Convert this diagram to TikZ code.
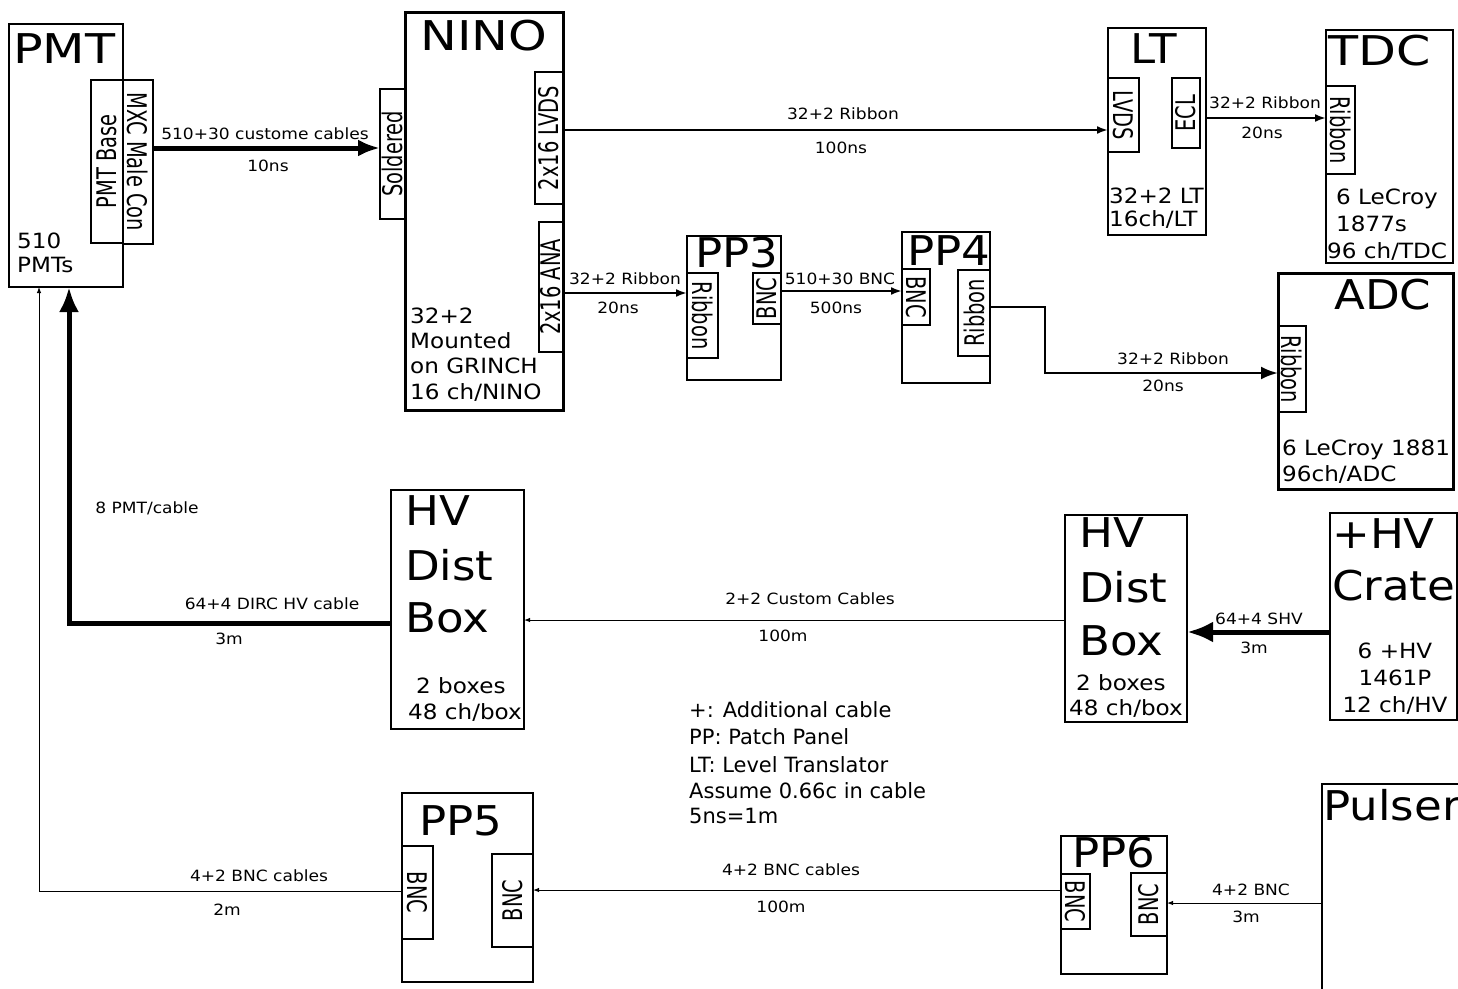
\documentclass[tikz,border=0pt]{standalone}
\usepackage{fontspec}
\setmainfont{DejaVu Sans}[FakeStretch=1.1]
\newfontfamily\legfont{DejaVu Sans}
\newfontfamily\widefont{DejaVu Sans}[FakeStretch=1.2]
\newfontfamily\connfont{DejaVu Sans}[FakeStretch=0.72]
\usetikzlibrary{arrows.meta,fit}
\begin{document}
\begin{tikzpicture}[x=1pt,y=-1pt,
 box/.style={draw, line width=2pt, inner sep=0pt, outer sep=0pt},
 heavybox/.style={box, line width=3pt},
 lightbox/.style={box, line width=1.5pt},
 conn/.style={draw, line width=1.5pt, inner sep=0pt, outer sep=0pt},
 ctext/.style={font={\connfont\fontsize{27}{27}\selectfont}, inner sep=0pt},
 title/.style={font=\fontsize{41}{41}\selectfont, inner sep=0pt, anchor=base west},
 widetitle/.style={title, font={\widefont\fontsize{41}{41}\selectfont}},
 med/.style={font=\fontsize{21}{21}\selectfont, inner sep=0pt, anchor=base west},
 leg/.style={font={\legfont\fontsize{21}{21}\selectfont}, inner sep=0pt, anchor=base west},
 lbl/.style={font=\fontsize{15.5}{15.5}\selectfont, inner sep=0pt, anchor=base},
 heavywire/.style={line width=5pt, -{Latex[length=22pt,width=17pt]}},
 medwire/.style={line width=2.5pt, -{Latex[length=11pt,width=8pt]}},
 thinwire/.style={line width=1pt, -{Latex[length=6pt,width=4.5pt]}}
]
\useasboundingbox (0,0) rectangle (1458,988);

% ---------- boxes ----------
\node[box, fit={(9,24)(123,287)}] (pmt) {};
\node[heavybox, fit={(405,12)(563,410)}] (nino) {};
\node[lightbox, fit={(687,236)(781,380)}] (pp3) {};
\node[lightbox, fit={(902,232)(990,383)}] (pp4) {};
\node[box, fit={(1108,28)(1206,235)}] (lt) {};
\node[box, fit={(1326,30)(1453,263)}] (tdc) {};
\node[heavybox, fit={(1278,273)(1453,489)}] (adc) {};
\node[box, fit={(391,490)(524,729)}] (hvl) {};
\node[box, fit={(1065,515)(1187,722)}] (hvr) {};
\node[box, fit={(1330,513)(1457,720)}] (crate) {};
\node[box, fit={(402,793)(533,982)}] (pp5) {};
\node[lightbox, fit={(1061,836)(1167,974)}] (pp6) {};
\node[box, fit={(1322,784)(1480,1010)}] (pulser) {};

% ---------- connectors ----------
\node[conn, fit={(91,80)(123,243)}] (pmtbase) {};
\node[ctext, rotate=90] (pmtbaseT) at (pmtbase.center) {PMT Base};
\node[conn, fit={(123,80)(153,244)}] (mxc) {};
\node[ctext, rotate=-90] (mxcT) at (mxc.center) {MXC Male Con};
\node[conn, fit={(380,89)(405,219)}] (sold) {};
\node[ctext, rotate=90] (soldT) at (sold.center) {Soldered};
\node[conn, fit={(535,72)(563,204)}] (lvds) {};
\node[ctext, rotate=90] (lvdsT) at (lvds.center) {2x16 LVDS};
\node[conn, fit={(539,222)(563,352)}] (ana) {};
\node[ctext, rotate=90] (anaT) at (ana.center) {2x16 ANA};
\node[conn, fit={(687,273)(718,358)}] (pp3rib) {};
\node[ctext, rotate=-90] (pp3ribT) at (pp3rib.center) {Ribbon};
\node[conn, fit={(753,273)(781,324)}] (pp3bnc) {};
\node[ctext, rotate=90] (pp3bncT) at (pp3bnc.center) {BNC};
\node[conn, fit={(902,269)(930,325)}] (pp4bnc) {};
\node[ctext, rotate=-90] (pp4bncT) at (pp4bnc.center) {BNC};
\node[conn, fit={(958,270)(990,356)}] (pp4rib) {};
\node[ctext, rotate=90] (pp4ribT) at (pp4rib.center) {Ribbon};
\node[conn, fit={(1108,78)(1139,152)}] (ltlvds) {};
\node[ctext, rotate=-90] (ltlvdsT) at (ltlvds.center) {LVDS};
\node[conn, fit={(1172,78)(1200,148)}] (ltecl) {};
\node[ctext, rotate=90] (lteclT) at (ltecl.center) {ECL};
\node[conn, fit={(1326,86)(1355,174)}] (tdcrib) {};
\node[ctext, rotate=-90] (tdcribT) at (tdcrib.center) {Ribbon};
\node[conn, fit={(1278,326)(1306,412)}] (adcrib) {};
\node[ctext, rotate=-90] (adcribT) at (adcrib.center) {Ribbon};
\node[conn, fit={(402,846)(433,939)}] (pp5l) {};
\node[ctext, rotate=-90] (pp5lT) at (pp5l.center) {BNC};
\node[conn, fit={(492,854)(533,947)}] (pp5r) {};
\node[ctext, rotate=90] (pp5rT) at (pp5r.center) {BNC};
\node[conn, fit={(1061,874)(1090,929)}] (pp6l) {};
\node[ctext, rotate=-90] (pp6lT) at (pp6l.center) {BNC};
\node[conn, fit={(1131,873)(1167,936)}] (pp6r) {};
\node[ctext, rotate=90] (pp6rT) at (pp6r.center) {BNC};

% ---------- titles ----------
\node[widetitle] (pmtT) at (13,63) {PMT};
\node[widetitle, anchor=base] (ninoT) at (484,50) {NINO};
\node[title] (pp3T) at (695,267) {PP3};
\node[title] (pp4T) at (907,265) {PP4};
\node[title] (ltT) at (1130,63) {LT};
\node[widetitle] (tdcT) at (1328,65) {TDC};
\node[title] (adcT) at (1334,309) {ADC};
\node[title] (hvlA) at (405,525) {HV};
\node[title] (hvlB) at (405,580) {Dist};
\node[title] (hvlC) at (405,632) {Box};
\node[title] (hvrA) at (1079,547) {HV};
\node[title] (hvrB) at (1079,602) {Dist};
\node[title] (hvrC) at (1079,655) {Box};
\node[title] (crateA) at (1332,548) {+HV};
\node[title] (crateB) at (1332,600) {Crate};
\node[title] (pp5T) at (419,835) {PP5};
\node[title] (pp6T) at (1072,867) {PP6};
\node[title] (pulserT) at (1323,820) {Pulser};

% ---------- box texts ----------
\node[med] (pmtA) at (17,248) {510};
\node[med] (pmtB) at (17,272) {PMTs};
\node[med] (ninoA) at (410,323) {32+2};
\node[med] (ninoB) at (410,348) {Mounted};
\node[med] (ninoC) at (410,373) {on GRINCH};
\node[med] (ninoD) at (410,399) {16 ch/NINO};
\node[med] (ltA) at (1109,203) {32+2 LT};
\node[med] (ltB) at (1109,226) {16ch/LT};
\node[med] (tdcA) at (1336,204) {6 LeCroy};
\node[med] (tdcB) at (1336,231) {1877s};
\node[med] (tdcC) at (1327,258) {96 ch/TDC};
\node[med] (adcA) at (1282,455) {6 LeCroy 1881};
\node[med] (adcB) at (1282,481) {96ch/ADC};
\node[med] (hvlD) at (416,693) {2 boxes};
\node[med] (hvlE) at (408,719) {48 ch/box};
\node[med] (hvrD) at (1076,690) {2 boxes};
\node[med] (hvrE) at (1069,715) {48 ch/box};
\node[med, anchor=base] (crateC) at (1395,658) {6 +HV};
\node[med, anchor=base] (crateD) at (1395,685) {1461P};
\node[med, anchor=base] (crateE) at (1395,712) {12 ch/HV};

% ---------- legend ----------
\node[leg] (legA) at (689,717) {+: Additional cable};
\node[leg] (legB) at (689,744) {PP: Patch Panel};
\node[leg] (legC) at (689,772) {LT: Level Translator};
\node[leg] (legD) at (689,798) {Assume 0.66c in cable};
\node[leg] (legE) at (689,823) {5ns=1m};

% ---------- wires ----------
\draw[heavywire] (mxc.east |- 0,148) -- (sold.west |- 0,148);
\draw[medwire] (lvds.east |- 0,130) -- (ltlvds.west |- 0,130);
\draw[medwire] (ana.east |- 0,293) -- (pp3rib.west |- 0,293);
\draw[medwire] (pp3bnc.east |- 0,291) -- (pp4bnc.west |- 0,291);
\draw[medwire] (lt.east |- 0,118) -- (tdcrib.west |- 0,118);
\draw[line width=2.8pt, -{Latex[length=17pt,width=13pt]}] (pp4rib.east |- 0,307) -- (1045,307) -- (1045,373) -- (adcrib.west |- 0,373);
\draw[line width=5pt, -{Latex[length=25pt,width=20pt]}] (hvl.west |- 0,623) -| (pmt.south -| 69,0);
\draw[thinwire] (pp5l.west |- 0,891) -| (pmt.south -| 39,0);
\draw[thinwire] (hvr.west |- 0,620) -- (hvl.east |- 0,620);
\draw[line width=5pt, -{Latex[length=26pt,width=21pt]}] (crate.west |- 0,632) -- (hvr.east |- 0,632);
\draw[thinwire] (pp6l.west |- 0,890) -- (pp5r.east |- 0,890);
\draw[thinwire] (pulser.west |- 0,903) -- (pp6r.east |- 0,903);

% ---------- wire labels ----------
\node[lbl] (w1a) at (265,139) {510+30 custome cables};
\node[lbl] (w1b) at (268,171) {10ns};
\node[lbl] (w2a) at (843,119) {32+2 Ribbon};
\node[lbl] (w2b) at (841,153) {100ns};
\node[lbl] (w3a) at (625,284) {32+2 Ribbon};
\node[lbl] (w3b) at (618,313) {20ns};
\node[lbl] (w4a) at (840,284) {510+30 BNC};
\node[lbl] (w4b) at (836,313) {500ns};
\node[lbl] (w5a) at (1265,108) {32+2 Ribbon};
\node[lbl] (w5b) at (1262,138) {20ns};
\node[lbl] (w6a) at (1173,364) {32+2 Ribbon};
\node[lbl] (w6b) at (1163,391) {20ns};
\node[lbl] (w7c) at (147,513) {8 PMT/cable};
\node[lbl] (w7a) at (272,609) {64+4 DIRC HV cable};
\node[lbl] (w7b) at (229,644) {3m};
\node[lbl] (w8a) at (810,604) {2+2 Custom Cables};
\node[lbl] (w8b) at (783,641) {100m};
\node[lbl] (w9a) at (1259,624) {64+4 SHV};
\node[lbl] (w9b) at (1254,653) {3m};
\node[lbl] (w10a) at (791,875) {4+2 BNC cables};
\node[lbl] (w10b) at (781,912) {100m};
\node[lbl] (w11a) at (259,881) {4+2 BNC cables};
\node[lbl] (w11b) at (227,915) {2m};
\node[lbl] (w12a) at (1251,895) {4+2 BNC};
\node[lbl] (w12b) at (1246,922) {3m};
\end{tikzpicture}
\end{document}
